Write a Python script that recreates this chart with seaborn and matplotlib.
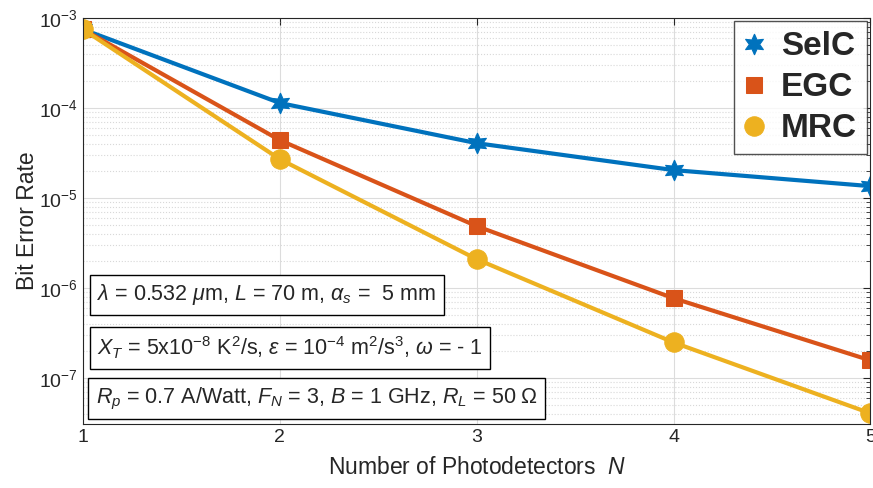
import numpy as np
import pandas as pd
import seaborn as sns
import matplotlib.pyplot as plt
from matplotlib.ticker import LogLocator, NullFormatter

# Data
n_detectors = [1, 2, 3, 4, 5]
ber_selc = [7.5e-4, 1.14e-4, 4.08e-5, 2.05e-5, 1.36e-5]
ber_egc = [7.5e-4, 4.41e-5, 4.89e-6, 7.74e-7, 1.58e-7]
ber_mrc = [7.5e-4, 2.71e-5, 2.1e-6, 2.5e-7, 4.08e-8]
schemes = ['SelC', 'EGC', 'MRC']
colors = {'SelC': '#0072BD', 'EGC': '#D95319', 'MRC': '#EDB120'}
markers = {'SelC': (6, 1, 0), 'EGC': 's', 'MRC': 'o'}
msizes = {'SelC': 15, 'EGC': 12, 'MRC': 14}

df = pd.DataFrame({
    'N': n_detectors * 3,
    'BER': ber_selc + ber_egc + ber_mrc,
    'scheme': [s for s in schemes for _ in n_detectors],
})

sns.set_style("white")
plt.rcParams['font.family'] = ['Liberation Sans', 'DejaVu Sans']
plt.rcParams['mathtext.fontset'] = 'custom'
plt.rcParams['mathtext.rm'] = 'Liberation Sans'
plt.rcParams['mathtext.it'] = 'Liberation Sans:italic'

fig = plt.figure(figsize=(8.73, 4.88), dpi=100)
ax = fig.add_axes([0.095, 0.131, 0.902, 0.832])

for s in schemes:
    sub = df[df['scheme'] == s]
    sns.lineplot(data=sub, x='N', y='BER', ax=ax, color=colors[s], marker=markers[s],
                 markersize=msizes[s], markeredgecolor=colors[s],
                 linewidth=3, label=s)

ax.set_yscale('log')
ax.set_xlim(1, 5)
ax.set_ylim(3.1e-8, 1e-3)
ax.set_xticks(n_detectors)
ax.yaxis.set_major_locator(LogLocator(base=10, numticks=10))
ax.yaxis.set_minor_locator(LogLocator(base=10, subs=np.arange(2, 10), numticks=20))
ax.yaxis.set_minor_formatter(NullFormatter())

ax.grid(True, which='major', color='#dcdcdc', linewidth=0.8)
ax.grid(True, which='minor', axis='y', color='#d8d8d8', linestyle=':', linewidth=0.8)
ax.tick_params(axis='both', which='both', direction='in', top=True, right=True,
               labelsize=14, colors='#262626')
ax.tick_params(which='major', length=5)
ax.tick_params(which='minor', length=3)
for sp in ax.spines.values():
    sp.set_color('#262626')
    sp.set_linewidth(0.8)

ax.set_xlabel(r'Number of Photodetectors  $N$', fontsize=16.5, color='#262626', labelpad=7)
ax.set_ylabel('Bit Error Rate', fontsize=16.5, color='#262626', labelpad=0)

leg = ax.legend(loc='upper right', prop={'weight': 'bold', 'size': 24},
                frameon=True, fancybox=False, edgecolor='#262626',
                handlelength=0.6, handletextpad=0.5, borderaxespad=0.1,
                labelspacing=0.3, borderpad=0.3)
leg.get_frame().set_linewidth(1.0)
for h in leg.legend_handles:
    h.set_linestyle('none')

box = dict(boxstyle='square,pad=0.35', facecolor='white', edgecolor='black', linewidth=1.0)
ax.text(0.018, 0.318, r'$\lambda$ = 0.532 $\mu$m, $L$ = 70 m, $\alpha_s$ =  5 mm',
        transform=ax.transAxes, fontsize=15.5, va='center', ha='left', bbox=box)
ax.text(0.018, 0.188, r'$X_T$ = 5x10$^{-8}$ K$^2$/s, $\epsilon$ = 10$^{-4}$ m$^2$/s$^3$, $\omega$ = - 1',
        transform=ax.transAxes, fontsize=15.5, va='center', ha='left', bbox=box)
ax.text(0.016, 0.062, r'$R_p$ = 0.7 A/Watt, $F_N$ = 3, $B$ = 1 GHz, $R_L$ = 50 $\Omega$',
        transform=ax.transAxes, fontsize=15.5, va='center', ha='left', bbox=box)

fig.savefig('out.png', dpi=100)
